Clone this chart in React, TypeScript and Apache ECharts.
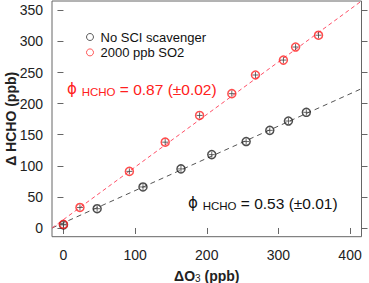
import React, { useEffect, useRef } from "react";
import * as echarts from "echarts";

const FONT = "'Liberation Sans', Arial, Helvetica, sans-serif";

const xTicks = [0, 100, 200, 300, 400];
const yTicks = [0, 50, 100, 150, 200, 250, 300, 350];

// No SCI scavenger
const blackX = [0, 47, 111, 164, 207, 255, 288, 314, 339];
const blackY = [5, 31, 66, 95, 118, 139, 157, 172, 186];
// 2000 ppb SO2
const redX = [0, 23, 92, 142, 190, 235, 268, 307, 324, 356];
const redY = [6, 33, 91, 138, 181, 216, 246, 270, 291, 310];

// fit lines (endpoints as drawn)
const blackFitX = [-16, 416];
const blackFitY = [0, 224];
const redFitX = [-16, 416];
const redFitY = [0, 365];

const zip = (xs: number[], ys: number[]) => xs.map((x, i) => [x, ys[i]]);

export default function App() {
  const ref = useRef<HTMLDivElement>(null);
  useEffect(() => {
    if (!ref.current) return;
    const chart = echarts.init(ref.current, undefined, { renderer: "svg" });
    const plus = "path://M5 0V10M0 5H10";
    const annot = (color: string) => ({
      p: { fontSize: 15, fill: color, fontFamily: "'DejaVu Sans', sans-serif" },
      s: { fontSize: 11.5, fill: color, fontFamily: FONT, padding: [5, 0, 0, 0] },
      m: { fontSize: 15.5, fill: color, fontFamily: FONT },
    });
    chart.setOption({
      animation: false,
      backgroundColor: "#fff",
      textStyle: { fontFamily: FONT },
      grid: {
        left: 52,
        right: 7.5,
        top: 1,
        bottom: 46.3,
        show: true,
        borderColor: "#666",
        borderWidth: 1,
        backgroundColor: "transparent",
        outerBoundsMode: "none",
        containLabel: false,
      },
      legend: {
        orient: "vertical",
        left: 79,
        top: 25,
        itemWidth: 7,
        itemHeight: 7,
        itemGap: 1.4,
        textStyle: { fontSize: 13, color: "#111", fontFamily: FONT, lineHeight: 14, padding: [0, 0, 0, 2] },
        data: [
          { name: "No SCI scavenger", icon: "circle", itemStyle: { color: "none", borderColor: "#333", borderWidth: 1 } },
          { name: "2000 ppb SO2", icon: "circle", itemStyle: { color: "none", borderColor: "#ff3030", borderWidth: 1 } },
        ],
      },
      xAxis: {
        type: "value",
        min: -16,
        max: 416,
        axisLine: { show: false },
        splitLine: { show: false },
        axisTick: { show: true, length: 6, lineStyle: { color: "#666" }, customValues: xTicks },
        axisLabel: { fontSize: 14, color: "#222", margin: 11, fontFamily: FONT, customValues: xTicks },
        name: "{a|ΔO}{s|3}{a| (ppb)}",
        nameLocation: "middle",
        nameGap: 31,
        nameMoveOverlap: false,
        nameTextStyle: {
          rich: {
            a: { fontSize: 14, fontWeight: "bold", color: "#222", fontFamily: FONT },
            s: { fontSize: 10, color: "#222", fontFamily: FONT, padding: [6, 0, 0, 0] },
          },
        },
      },
      yAxis: [
        {
          type: "value",
          min: -14,
          max: 365,
          axisLine: { show: false },
          splitLine: { show: false },
          axisTick: { show: true, length: 6, lineStyle: { color: "#666" }, customValues: yTicks },
          axisLabel: { fontSize: 14, color: "#222", margin: 9, fontFamily: FONT, customValues: yTicks },
          name: "Δ HCHO (ppb)",
          nameLocation: "middle",
          nameGap: 34,
          nameMoveOverlap: false,
          nameTextStyle: { fontSize: 14, fontWeight: "bold", color: "#222", fontFamily: FONT },
        },
        {
          type: "value",
          position: "right",
          min: -14,
          max: 365,
          axisLine: { show: false },
          splitLine: { show: false },
          axisTick: { show: true, length: 6, lineStyle: { color: "#666" }, customValues: yTicks },
          axisLabel: { show: false },
        },
      ],
      series: [
        {
          name: "blackFit",
          type: "line",
          data: zip(blackFitX, blackFitY),
          symbol: "none",
          lineStyle: { color: "#555", width: 1, type: [5, 4] },
          z: 1,
        },
        {
          name: "redFit",
          type: "line",
          data: zip(redFitX, redFitY),
          symbol: "none",
          lineStyle: { color: "#ff5068", width: 1, type: [4, 3] },
          z: 1,
        },
        {
          name: "No SCI scavenger",
          type: "scatter",
          data: zip(blackX, blackY),
          symbol: "circle",
          symbolSize: 8,
          itemStyle: { color: "none", borderColor: "#222", borderWidth: 1.5 },
          z: 3,
        },
        {
          name: "blackPlus",
          type: "scatter",
          data: zip(blackX, blackY),
          symbol: plus,
          symbolSize: 6,
          itemStyle: { color: "none", borderColor: "#444", borderWidth: 1 },
          z: 4,
        },
        {
          name: "2000 ppb SO2",
          type: "scatter",
          data: zip(redX, redY),
          symbol: "circle",
          symbolSize: 8,
          itemStyle: { color: "none", borderColor: "#ff2020", borderWidth: 1.5 },
          z: 3,
        },
        {
          name: "redPlus",
          type: "scatter",
          data: zip(redX, redY),
          symbol: plus,
          symbolSize: 6,
          itemStyle: { color: "none", borderColor: "#444", borderWidth: 1 },
          z: 4,
        },
      ],
      graphic: [
        {
          type: "text",
          left: 67,
          top: 81,
          style: { text: "{p|ϕ }{s|HCHO}{m| = 0.87 (±0.02)}", fill: "#ff2020", rich: annot("#ff2020") },
        },
        {
          type: "text",
          left: 188,
          top: 195,
          style: { text: "{p|ϕ }{s|HCHO}{m| = 0.53 (±0.01)}", fill: "#111", rich: annot("#111") },
        },
      ],
    });
    return () => chart.dispose();
  }, []);
  return <div ref={ref} style={{ width: 369, height: 283, position: "absolute", left: 0, top: 0 }} />;
}
